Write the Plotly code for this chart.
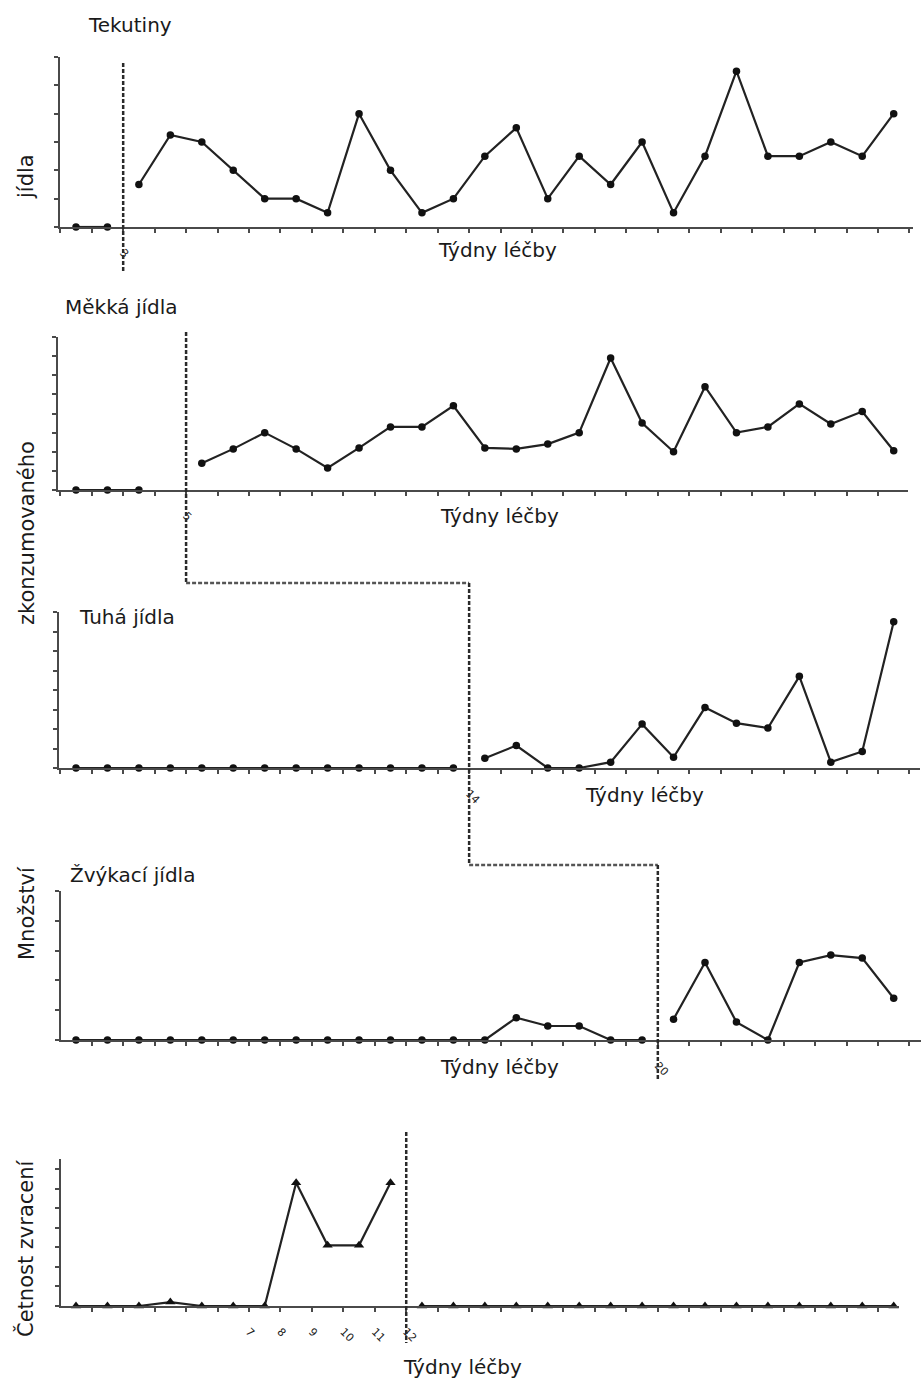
import plotly.graph_objects as go

W, H = 922, 1390

# ---------------- data ----------------
# Panel 1: Tekutiny
p1_base_weeks = [1, 2]
p1_base_vals = [0, 0]
p1_treat_weeks = list(range(3, 28))
p1_treat_vals = [1.5, 3.25, 3.0, 2.0, 1.0, 1.0, 0.5, 4.0, 2.0, 0.5, 1.0, 2.5, 3.5,
                 1.0, 2.5, 1.5, 3.0, 0.5, 2.5, 5.5, 2.5, 2.5, 3.0, 2.5, 4.0]

# Panel 2: Měkká jídla
p2_base_weeks = [1, 2, 3]
p2_base_vals = [0, 0, 0]
p2_treat_weeks = list(range(5, 28))
p2_treat_vals = [1.4, 2.15, 3.0, 2.15, 1.15, 2.2, 3.3, 3.3, 4.4, 2.2, 2.15, 2.4,
                 3.0, 6.9, 3.5, 2.0, 5.4, 3.0, 3.3, 4.5, 3.45, 4.1, 2.05]

# Panel 3: Tuhá jídla
p3_base_weeks = list(range(1, 14))
p3_base_vals = [0] * 13
p3_treat_weeks = list(range(14, 28))
p3_treat_vals = [0.5, 1.15, 0, 0, 0.3, 2.25, 0.55, 3.1, 2.3, 2.05, 4.7, 0.3, 0.85, 7.5]

# Panel 4: Žvýkací jídla
p4_base_weeks = list(range(1, 20))
p4_base_vals = [0, 0, 0, 0, 0, 0, 0, 0, 0, 0, 0, 0, 0, 0, 0.75, 0.47, 0.47, 0, 0]
p4_treat_weeks = list(range(20, 28))
p4_treat_vals = [0.7, 2.6, 0.6, 0, 2.6, 2.85, 2.75, 1.4]

# Panel 5: Četnost zvracení
p5_base_weeks = list(range(1, 12))
p5_base_vals = [0, 0, 0, 0.2, 0, 0, 0, 6.3, 3.1, 3.1, 6.3]
p5_treat_weeks = list(range(12, 28))
p5_treat_vals = [0] * 16

# phase-change positions (between weeks) and their labels
phase_weeks = [2.5, 4.5, 13.5, 19.5, 11.5]
phase_labels = ["3", "5", "14", "20", "12"]
p5_extra_tick_weeks = [6.5, 7.5, 8.5, 9.5, 10.5]
p5_extra_tick_labels = ["7", "8", "9", "10", "11"]

panel_titles = ["Tekutiny", "Měkká jídla", "Tuhá jídla", "Žvýkací jídla", ""]
x_title = "Týdny léčby"
y_label_parts = ["jídla", "zkonzumovaného", "Množství"]
y_label_bottom = "Četnost zvracení"
y_max_ticks = [6, 8, 8, 5, 7]

# ---------------- layout geometry (pixels) ----------------
def wk(px):  # pixel -> week (common horizontal scale)
    return 1 + (px - 76) / 31.45

def fx(px):
    return px / W

def fy(py):
    return 1 - py / H

# (left, right, top(axis end), bottom(baseline), top value of axis)
panels = [
    (60, 913, 57, 227, 6),
    (58, 908, 337, 490, 8),
    (59, 920, 612, 768, 8),
    (61, 921, 891, 1040, 5),
    (61, 899, 1159, 1306, 7 * (1306 - 1159) / (1306 - 1169)),
]

series = [
    (p1_base_weeks, p1_base_vals, p1_treat_weeks, p1_treat_vals),
    (p2_base_weeks, p2_base_vals, p2_treat_weeks, p2_treat_vals),
    (p3_base_weeks, p3_base_vals, p3_treat_weeks, p3_treat_vals),
    (p4_base_weeks, p4_base_vals, p4_treat_weeks, p4_treat_vals),
    (p5_base_weeks, p5_base_vals, p5_treat_weeks, p5_treat_vals),
]

LINE = "#222222"
AX = "#4a4a4a"
FONT = "DejaVu Sans"
TXT = "#1a1a1a"

fig = go.Figure()
layout = dict(
    width=W, height=H, margin=dict(l=0, r=0, t=0, b=0),
    paper_bgcolor="white", plot_bgcolor="white", showlegend=False,
    font=dict(family=FONT, color=TXT),
)

for i, ((L, R, T, B, ymax), (bw, bv, tw, tv)) in enumerate(zip(panels, series)):
    n = i + 1
    xa = "x" if n == 1 else f"x{n}"
    ya = "y" if n == 1 else f"y{n}"
    sym = "triangle-up" if n == 5 else "circle"
    msize = 9 if n == 5 else 7.5
    for xs, ys in ((bw, bv), (tw, tv)):
        fig.add_trace(go.Scatter(
            x=xs, y=ys, xaxis=xa, yaxis=ya, mode="lines+markers",
            line=dict(color=LINE, width=2.2),
            marker=dict(symbol=sym, size=msize, color="#111"),
            cliponaxis=False, hoverinfo="skip"))

    r0, r1 = wk(L), wk(R)
    tickvals = [k + 0.5 for k in range(0, 28) if r0 <= k + 0.5 <= r1]
    labels = {phase_weeks[i]: phase_labels[i]}
    if n == 5:
        labels.update(dict(zip(p5_extra_tick_weeks, p5_extra_tick_labels)))
    ticktext = [labels.get(v, "") for v in tickvals]

    layout["xaxis" if n == 1 else f"xaxis{n}"] = dict(
        domain=[fx(L), fx(R)], range=[r0, r1], anchor=ya,
        showline=True, linecolor=AX, linewidth=2, showgrid=False, zeroline=False,
        ticks="outside", ticklen=4, tickwidth=1.5, tickcolor=AX,
        tickvals=tickvals, ticktext=ticktext, tickangle=45,
        tickfont=dict(size=11, color="#222"), ticklabelstandoff=9,
        fixedrange=True)
    layout["yaxis" if n == 1 else f"yaxis{n}"] = dict(
        domain=[fy(B), fy(T)], range=[0, ymax], anchor=xa,
        showline=True, linecolor=AX, linewidth=2, showgrid=False, zeroline=False,
        ticks="outside", ticklen=4, tickwidth=1.5, tickcolor=AX,
        tickmode="array", tickvals=list(range(0, y_max_ticks[i] + 1)),
        showticklabels=False, fixedrange=True)

# ---------------- phase lines ----------------
dash = dict(color="#2a2a2a", width=2.5, dash="4px,2px")
shapes = [
    dict(type="line", xref="x", yref="paper", x0=phase_weeks[0], x1=phase_weeks[0],
         y0=fy(63), y1=fy(272), line=dash),
    dict(type="line", xref="x2", yref="paper", x0=phase_weeks[1], x1=phase_weeks[1],
         y0=fy(332), y1=fy(583), line=dash),
    dict(type="line", xref="x2", yref="paper", x0=phase_weeks[1], x1=phase_weeks[2],
         y0=fy(583), y1=fy(583), line=dict(color="#555", width=2.5, dash="4px,2px")),
    dict(type="line", xref="x3", yref="paper", x0=phase_weeks[2], x1=phase_weeks[2],
         y0=fy(583), y1=fy(865), line=dash),
    dict(type="line", xref="x3", yref="paper", x0=phase_weeks[2], x1=phase_weeks[3],
         y0=fy(865), y1=fy(865), line=dict(color="#555", width=2.5, dash="4px,2px")),
    dict(type="line", xref="x4", yref="paper", x0=phase_weeks[3], x1=phase_weeks[3],
         y0=fy(865), y1=fy(1080), line=dash),
    dict(type="line", xref="x5", yref="paper", x0=phase_weeks[4], x1=phase_weeks[4],
         y0=fy(1132), y1=fy(1343), line=dash),
]
layout["shapes"] = shapes

# ---------------- text ----------------
ann = []
title_pos = [(86, 25), (63, 307), (77, 617), (68, 875)]
for t, (px, py) in zip(panel_titles, title_pos):
    ann.append(dict(text=t, x=fx(px), y=fy(py), xref="paper", yref="paper",
                    xanchor="left", yanchor="middle", showarrow=False,
                    font=dict(size=20, family=FONT, color=TXT)))
xt_pos = [(498, 250), (499, 516), (644, 795), (499, 1067), (462, 1367)]
for px, py in xt_pos:
    ann.append(dict(text=x_title, x=fx(px), y=fy(py), xref="paper", yref="paper",
                    xanchor="center", yanchor="middle", showarrow=False,
                    font=dict(size=20, family=FONT, color=TXT)))
yl_pos = [(26, 177), (27, 533), (27, 913)]
for t, (px, py) in zip(y_label_parts, yl_pos):
    ann.append(dict(text=t, x=fx(px), y=fy(py), xref="paper", yref="paper",
                    xanchor="center", yanchor="middle", showarrow=False, textangle=-90,
                    font=dict(size=21, family=FONT, color=TXT)))
ann.append(dict(text=y_label_bottom, x=fx(25), y=fy(1248), xref="paper", yref="paper",
                xanchor="center", yanchor="middle", showarrow=False, textangle=-90,
                font=dict(size=21, family=FONT, color=TXT)))
layout["annotations"] = ann

fig.update_layout(**layout)
fig.write_html("out.html", post_script="document.body.style.margin='0';",
               config={"displayModeBar": False})
